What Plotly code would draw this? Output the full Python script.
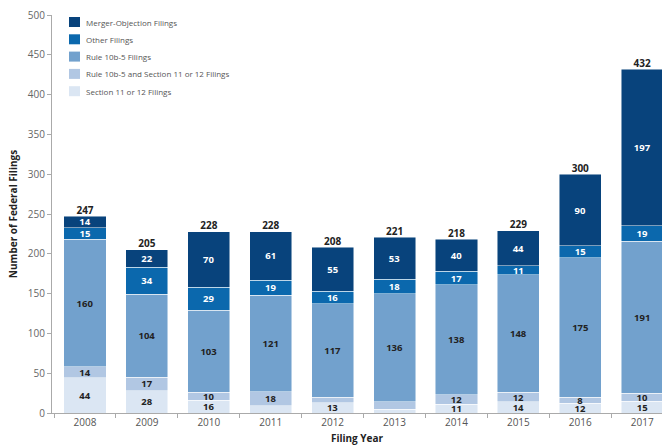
import plotly.graph_objects as go

years = ["2008", "2009", "2010", "2011", "2012", "2013", "2014", "2015", "2016", "2017"]

section_11_12 = [44, 28, 16, 9, 13, 5, 11, 14, 12, 15]
rule_10b5_and_s11 = [14, 17, 10, 18, 7, 9, 12, 12, 8, 10]
rule_10b5 = [160, 104, 103, 121, 117, 136, 138, 148, 175, 191]
other_filings = [15, 34, 29, 19, 16, 18, 17, 11, 15, 19]
merger_objection = [14, 22, 70, 61, 55, 53, 40, 44, 90, 197]

# segments too thin to carry a value label: (series name, year)
unlabeled = {
    ("Section 11 or 12 Filings", "2011"),
    ("Section 11 or 12 Filings", "2013"),
    ("Rule 10b-5 and Section 11 or 12 Filings", "2012"),
    ("Rule 10b-5 and Section 11 or 12 Filings", "2013"),
}

series = [
    ("Section 11 or 12 Filings", section_11_12, "#dbe6f3", "#222222"),
    ("Rule 10b-5 and Section 11 or 12 Filings", rule_10b5_and_s11, "#b1c7e3", "#222222"),
    ("Rule 10b-5 Filings", rule_10b5, "#72a1cd", "#222222"),
    ("Other Filings", other_filings, "#0b68ad", "#ffffff"),
    ("Merger-Objection Filings", merger_objection, "#08437c", "#ffffff"),
]

FONT = "Open Sans, Arial, sans-serif"
W, H = 662, 445
M_L, M_R, M_T, M_B = 52, 0, 15, 32
PLOT_W = W - M_L - M_R
PLOT_H = H - M_T - M_B

fig = go.Figure()
for name, vals, color, tcolor in series:
    labels = ["" if (name, y) in unlabeled else str(v) for y, v in zip(years, vals)]
    fig.add_trace(go.Bar(
        name=name,
        x=years,
        y=vals,
        text=labels,
        textposition="inside",
        insidetextanchor="middle",
        textangle=0,
        constraintext="none",
        textfont=dict(family=FONT, size=9.5, color=tcolor, weight="bold"),
        marker=dict(color=color, line=dict(color="rgba(255,255,255,0.6)", width=0.8)),
        hoverinfo="name+y",
        showlegend=False,
    ))

totals = [sum(t) for t in zip(section_11_12, rule_10b5_and_s11, rule_10b5, other_filings, merger_objection)]
fig.add_trace(go.Scatter(
    x=years,
    y=totals,
    mode="text",
    text=[str(t) for t in totals],
    textposition="top center",
    textfont=dict(family=FONT, size=10, color="#222222", weight="bold"),
    showlegend=False,
    hoverinfo="skip",
    cliponaxis=False,
))

# compact legend in the upper-left corner of the plot (top entry first)
def px_x(px):
    return (px - M_L) / PLOT_W

def px_y(py):
    return (H - M_B - py) / PLOT_H

for i, (name, _, color, _) in enumerate(reversed(series)):
    cy = 22 + i * 17.3
    fig.add_shape(
        type="rect", xref="paper", yref="paper",
        x0=px_x(69), x1=px_x(80), y0=px_y(cy + 5), y1=px_y(cy - 5),
        fillcolor=color, line=dict(width=0),
    )
    fig.add_annotation(
        xref="paper", yref="paper", x=px_x(84), y=px_y(cy),
        xanchor="left", yanchor="middle", showarrow=False,
        text=name, font=dict(family=FONT, size=8, color="#555555"),
    )

fig.update_layout(
    width=W,
    height=H,
    margin=dict(l=M_L, r=M_R, t=M_T, b=M_B),
    barmode="stack",
    bargap=0.32,
    plot_bgcolor="white",
    paper_bgcolor="white",
    font=dict(family=FONT, size=10, color="#666666"),
    showlegend=False,
    xaxis=dict(
        type="category",
        range=[-0.533, 9.32],
        showline=True, linecolor="#aaaaaa", linewidth=1,
        ticks="outside", tickson="boundaries", ticklen=4, tickcolor="#aaaaaa",
        tickfont=dict(family=FONT, size=10, color="#555555"),
        title=dict(text="<b>Filing Year</b>", font=dict(family=FONT, size=10, color="#222222"), standoff=9),
        fixedrange=True,
    ),
    yaxis=dict(
        range=[0, 500],
        dtick=50,
        showgrid=False,
        zeroline=False,
        showline=True, linecolor="#aaaaaa", linewidth=1,
        ticks="outside", ticklen=4, tickcolor="#aaaaaa",
        tickfont=dict(family=FONT, size=10, color="#666666"),
        title=dict(text="<b>Number of Federal Filings</b>", font=dict(family=FONT, size=10, color="#222222"), standoff=8),
    ),
)

fig.write_html("out.html")
